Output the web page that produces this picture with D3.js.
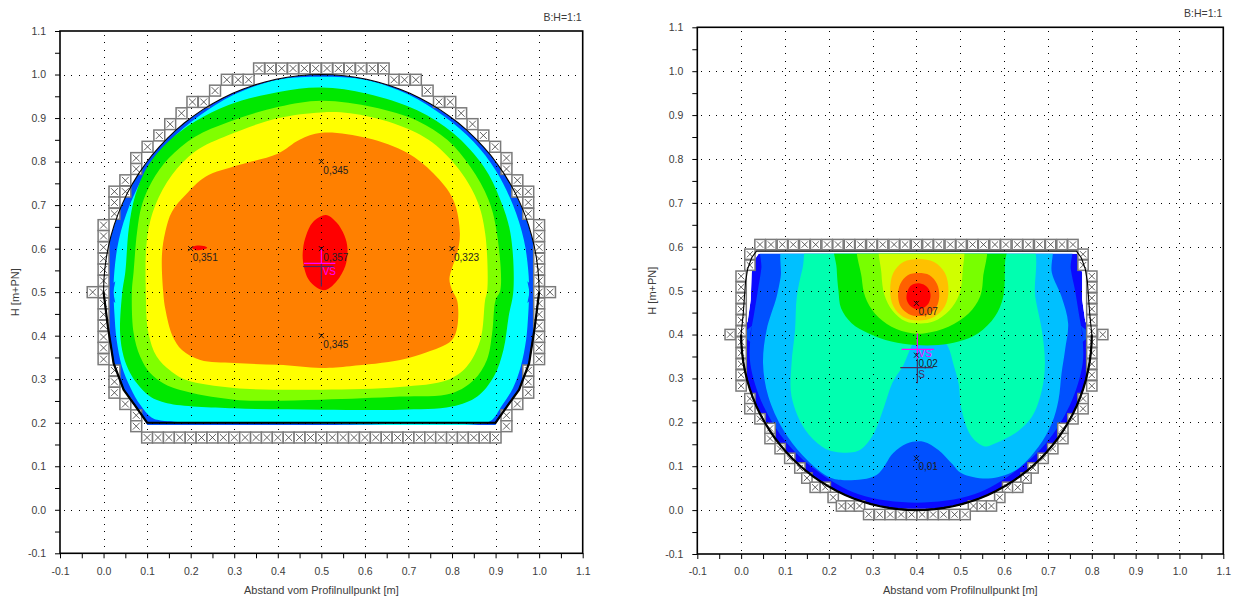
<!DOCTYPE html>
<html>
<head>
<meta charset="utf-8">
<script src="https://cdn.jsdelivr.net/npm/d3@7/dist/d3.min.js"></script>
<style>
html,body{margin:0;padding:0;background:#fff;}
svg{display:block;font-family:"Liberation Sans",Arial,sans-serif;}
</style>
</head>
<body>
<svg id="chart" width="1242" height="598"></svg>
<script>
// ---------------- shared axis data ----------------
const axisDomain = [-0.1, 1.1];
const majorTicks = [-0.1, 0.0, 0.1, 0.2, 0.3, 0.4, 0.5, 0.6, 0.7, 0.8, 0.9, 1.0, 1.1];
const majorLabels = ["-0.1", "0.0", "0.1", "0.2", "0.3", "0.4", "0.5", "0.6", "0.7", "0.8", "0.9", "1.0", "1.1"];
const minorTicks = [-0.05, 0.05, 0.15, 0.25, 0.35, 0.45, 0.55, 0.65, 0.75, 0.85, 0.95, 1.05];
const gridLines = [0.0, 0.1, 0.2, 0.3, 0.4, 0.5, 0.6, 0.7, 0.8, 0.9, 1.0];
const xTitle = "Abstand vom Profilnullpunkt [m]";
const yTitle = "H [m+PN]";
const ratioLabel = "B:H=1:1";

// ---------------- left chart: profile geometry ----------------
const leftArc = { cx: 0.5, cy: 0.5, r: 0.5, from: 180, to: 0 };
const leftProfileLower = [[1.0,0.5],[0.99,0.42],[0.977,0.337],[0.954,0.276],[0.928,0.24],[0.9,0.2],[0.1,0.2],[0.072,0.24],[0.046,0.276],[0.023,0.337],[0.01,0.42],[0.0,0.5]];
const leftFluidLower = [[1.0,0.5],[0.99,0.42],[0.977,0.337],[0.954,0.276],[0.928,0.24],[0.9,0.195],[0.1,0.195],[0.072,0.24],[0.046,0.276],[0.023,0.337],[0.01,0.42],[0.0,0.5]];

// left chart: contour bands (outer boundary of each level)
const leftCyan = [[0.5,0.995],[0.6,0.988],[0.7,0.954],[0.78,0.905],[0.85,0.845],[0.9,0.78],[0.94,0.7],[0.965,0.62],[0.975,0.55],[0.977,0.5],[0.975,0.45],[0.97,0.39],[0.958,0.33],[0.94,0.28],[0.915,0.24],[0.89,0.205],[0.86,0.197],[0.5,0.197],[0.3,0.2],[0.14,0.204],[0.11,0.212],[0.085,0.24],[0.062,0.28],[0.042,0.33],[0.03,0.39],[0.025,0.45],[0.023,0.5],[0.025,0.55],[0.035,0.62],[0.06,0.7],[0.1,0.78],[0.15,0.845],[0.22,0.905],[0.3,0.954],[0.4,0.988]];
const leftGreen = [[0.5,0.97],[0.605,0.956],[0.72,0.918],[0.803,0.865],[0.873,0.788],[0.911,0.712],[0.934,0.636],[0.941,0.505],[0.93,0.444],[0.918,0.367],[0.896,0.306],[0.858,0.26],[0.8,0.237],[0.68,0.23],[0.5,0.23],[0.3,0.233],[0.146,0.245],[0.107,0.26],[0.077,0.29],[0.061,0.314],[0.046,0.352],[0.038,0.406],[0.043,0.5],[0.05,0.547],[0.058,0.647],[0.073,0.723],[0.103,0.792],[0.149,0.846],[0.21,0.892],[0.287,0.93],[0.402,0.96]];
const leftLime = [[0.5,0.94],[0.62,0.925],[0.72,0.894],[0.789,0.85],[0.842,0.788],[0.884,0.712],[0.903,0.636],[0.911,0.505],[0.9,0.482],[0.892,0.405],[0.88,0.344],[0.85,0.298],[0.8,0.268],[0.68,0.26],[0.5,0.253],[0.3,0.253],[0.176,0.275],[0.138,0.29],[0.107,0.314],[0.084,0.352],[0.069,0.406],[0.065,0.5],[0.069,0.547],[0.077,0.639],[0.088,0.7],[0.111,0.754],[0.149,0.807],[0.21,0.857],[0.287,0.891],[0.402,0.926]];
const leftYellow = [[0.5,0.913],[0.566,0.911],[0.665,0.888],[0.746,0.85],[0.811,0.788],[0.857,0.712],[0.876,0.636],[0.881,0.505],[0.876,0.482],[0.865,0.39],[0.834,0.329],[0.79,0.298],[0.68,0.282],[0.5,0.276],[0.3,0.28],[0.19,0.298],[0.153,0.32],[0.122,0.352],[0.103,0.406],[0.097,0.5],[0.1,0.624],[0.119,0.7],[0.157,0.769],[0.21,0.823],[0.287,0.861],[0.402,0.9]];
const leftOrange = [[0.5,0.866],[0.605,0.854],[0.697,0.82],[0.757,0.773],[0.803,0.712],[0.818,0.636],[0.812,0.59],[0.8,0.555],[0.794,0.53],[0.8,0.505],[0.812,0.48],[0.812,0.42],[0.8,0.39],[0.77,0.372],[0.742,0.362],[0.681,0.344],[0.566,0.33],[0.5,0.326],[0.4,0.333],[0.3,0.337],[0.222,0.344],[0.18,0.367],[0.158,0.4],[0.142,0.46],[0.137,0.5],[0.134,0.585],[0.142,0.64],[0.157,0.685],[0.188,0.723],[0.234,0.765],[0.31,0.792],[0.4,0.818],[0.45,0.85]];
const leftRed = [[0.51,0.677],[0.535,0.66],[0.553,0.63],[0.56,0.6],[0.555,0.56],[0.535,0.525],[0.51,0.505],[0.49,0.51],[0.47,0.53],[0.458,0.57],[0.458,0.6],[0.465,0.63],[0.48,0.66]];
const leftRedSmall = [[0.203,0.603],[0.215,0.607],[0.23,0.606],[0.238,0.602],[0.228,0.598],[0.21,0.597]];
const leftSpikes = [[[0.0,0.5],[0.027,0.525],[0.022,0.5],[0.027,0.475]], [[1.0,0.5],[0.973,0.525],[0.978,0.5],[0.973,0.475]]];

// left chart: wall cells (centres)
const leftWall = [
  [0.357,1.014],[0.383,1.014],[0.409,1.014],[0.435,1.014],[0.461,1.014],[0.487,1.014],[0.513,1.014],[0.539,1.014],[0.565,1.014],[0.591,1.014],[0.617,1.014],[0.643,1.014],
  [0.283,0.988],[0.309,0.988],[0.333,0.988],[0.667,0.988],[0.691,0.988],[0.717,0.988],
  [0.256,0.963],[0.744,0.963],
  [0.204,0.937],[0.230,0.937],[0.770,0.937],[0.796,0.937],
  [0.179,0.911],[0.821,0.911],
  [0.153,0.886],[0.847,0.886],
  [0.128,0.860],[0.872,0.860],
  [0.101,0.834],[0.899,0.834],
  [0.075,0.808],[0.925,0.808],
  [0.075,0.783],[0.925,0.783],
  [0.050,0.757],[0.950,0.757],
  [0.025,0.731],[0.050,0.731],[0.950,0.731],[0.975,0.731],
  [0.025,0.706],[0.975,0.706],
  [0.025,0.680],[0.975,0.680],
  [0.0,0.654],[1.0,0.654],[0.0,0.629],[1.0,0.629],[0.0,0.603],[1.0,0.603],[0.0,0.577],[1.0,0.577],
  [0.0,0.552],[1.0,0.552],[0.0,0.526],[1.0,0.526],[0.0,0.500],[1.0,0.500],[0.0,0.474],[1.0,0.474],
  [0.0,0.449],[1.0,0.449],[0.0,0.423],[1.0,0.423],[0.0,0.397],[1.0,0.397],[0.0,0.372],[1.0,0.372],
  [0.0,0.346],[1.0,0.346],
  [-0.025,0.5],[1.025,0.5],
  [0.025,0.320],[0.975,0.320],[0.025,0.294],[0.975,0.294],[0.025,0.269],[0.975,0.269],
  [0.050,0.243],[0.950,0.243],
  [0.075,0.217],[0.925,0.217],[0.075,0.192],[0.925,0.192],
  [0.100,0.166],[0.125,0.166],[0.150,0.166],[0.175,0.166],[0.200,0.166],[0.225,0.166],[0.250,0.166],[0.275,0.166],
  [0.300,0.166],[0.325,0.166],[0.350,0.166],[0.375,0.166],[0.400,0.166],[0.425,0.166],[0.450,0.166],[0.475,0.166],
  [0.500,0.166],[0.525,0.166],[0.550,0.166],[0.575,0.166],[0.600,0.166],[0.625,0.166],[0.650,0.166],[0.675,0.166],
  [0.700,0.166],[0.725,0.166],[0.750,0.166],[0.775,0.166],[0.800,0.166],[0.825,0.166],[0.850,0.166],[0.875,0.166],[0.900,0.166]
];
const leftMarkers = [
  { x: 0.5, y: 0.8, label: "0,345" },
  { x: 0.2, y: 0.6, label: "0,351" },
  { x: 0.5, y: 0.6, label: "0,357" },
  { x: 0.8, y: 0.6, label: "0,323" },
  { x: 0.5, y: 0.4, label: "0,345" }
];
const leftLevels = [
  { kind: "vs", x0: 0.46, x1: 0.532, y: 0.566, name: "VS", tx: 0.503, ty: 0.547 },
  { kind: "s", x0: 0.458, x1: 0.528, y: 0.559, name: "", tx: 0, ty: 0 }
];
const leftStems = [
  { kind: "vs", x: 0.5, y0: 0.601, y1: 0.566 },
  { kind: "s", x: 0.5, y0: 0.566, y1: 0.513 }
];

// ---------------- right chart: profile geometry ----------------
const rightArc = { cx: 0.4, cy: 0.4, r: 0.4, from: 0, to: -180 };
const rightProfileUpper = [[0.035,0.59],[0.765,0.59],[0.776,0.575],[0.785,0.55],[0.79,0.52],[0.795,0.45],[0.8,0.4]];
const rightProfileLeft = [[0.0,0.4],[0.005,0.45],[0.01,0.52],[0.015,0.55],[0.024,0.575]];
const rightFluidUpper = [[0.04,0.584],[0.766,0.584],[0.772,0.57],[0.778,0.54],[0.778,0.48],[0.785,0.43],[0.8,0.4]];
const rightFluidLeft = [[0.0,0.4],[0.015,0.43],[0.022,0.48],[0.024,0.54],[0.03,0.57]];

// right chart: contour bands
const rightBlue = [[0.052,0.62],[0.748,0.62],[0.752,0.55],[0.762,0.5],[0.77,0.45],[0.778,0.4],[0.779,0.333],[0.749,0.237],[0.695,0.152],[0.621,0.085],[0.532,0.036],[0.4,0.017],[0.268,0.036],[0.179,0.085],[0.105,0.152],[0.051,0.237],[0.021,0.333],[0.022,0.4],[0.03,0.45],[0.038,0.5],[0.046,0.55]];
const rightSky = [[0.104,0.62],[0.701,0.62],[0.709,0.54],[0.731,0.486],[0.746,0.426],[0.739,0.365],[0.731,0.312],[0.724,0.251],[0.709,0.198],[0.678,0.144],[0.625,0.09],[0.564,0.072],[0.503,0.084],[0.48,0.107],[0.45,0.137],[0.416,0.156],[0.378,0.152],[0.347,0.13],[0.309,0.08],[0.241,0.068],[0.199,0.076],[0.14,0.125],[0.096,0.183],[0.062,0.259],[0.05,0.334],[0.058,0.41],[0.081,0.486],[0.09,0.53]];
const rightAqua = [[0.161,0.62],[0.655,0.62],[0.671,0.486],[0.686,0.41],[0.693,0.334],[0.686,0.273],[0.663,0.212],[0.625,0.175],[0.579,0.152],[0.556,0.145],[0.526,0.167],[0.503,0.228],[0.496,0.289],[0.485,0.33],[0.472,0.372],[0.455,0.392],[0.4,0.392],[0.388,0.372],[0.37,0.33],[0.345,0.29],[0.326,0.235],[0.3,0.17],[0.267,0.135],[0.214,0.133],[0.184,0.145],[0.146,0.183],[0.115,0.259],[0.115,0.334],[0.123,0.41],[0.127,0.486],[0.14,0.55]];
const rightGreen = [[0.218,0.62],[0.602,0.62],[0.602,0.562],[0.598,0.486],[0.579,0.441],[0.541,0.403],[0.496,0.384],[0.45,0.376],[0.397,0.376],[0.343,0.384],[0.29,0.403],[0.252,0.426],[0.228,0.46],[0.222,0.5],[0.218,0.55]];
const rightLime = [[0.271,0.62],[0.553,0.62],[0.552,0.53],[0.545,0.486],[0.519,0.448],[0.473,0.418],[0.42,0.403],[0.389,0.403],[0.343,0.418],[0.305,0.448],[0.283,0.486],[0.275,0.53]];
const rightYellowGreen = [[0.321,0.62],[0.5,0.62],[0.505,0.54],[0.497,0.49],[0.475,0.455],[0.44,0.43],[0.41,0.425],[0.375,0.43],[0.345,0.455],[0.327,0.49],[0.32,0.54]];
const rightGold = [[0.405,0.572],[0.44,0.565],[0.465,0.54],[0.473,0.5],[0.465,0.465],[0.44,0.44],[0.405,0.432],[0.37,0.44],[0.347,0.465],[0.34,0.5],[0.347,0.54],[0.37,0.565]];
const rightOrange = [[0.405,0.54],[0.43,0.535],[0.447,0.515],[0.452,0.488],[0.445,0.462],[0.428,0.447],[0.405,0.442],[0.382,0.447],[0.365,0.462],[0.358,0.488],[0.363,0.515],[0.38,0.535]];
const rightRed = [[0.405,0.517],[0.42,0.512],[0.43,0.5],[0.432,0.486],[0.427,0.47],[0.415,0.46],[0.4,0.458],[0.386,0.465],[0.378,0.478],[0.378,0.493],[0.384,0.508],[0.394,0.515]];
const rightSpikes = [[[0.0,0.4],[0.025,0.42],[0.02,0.4],[0.025,0.38]], [[0.8,0.4],[0.775,0.42],[0.78,0.4],[0.775,0.38]]];

// right chart: wall cells (centres)
const rightWall = [
  [0.043,0.605],[0.068,0.605],[0.094,0.605],[0.119,0.605],[0.145,0.605],[0.170,0.605],[0.196,0.605],[0.221,0.605],
  [0.247,0.605],[0.272,0.605],[0.298,0.605],[0.323,0.605],[0.349,0.605],[0.374,0.605],[0.400,0.605],[0.426,0.605],
  [0.451,0.605],[0.477,0.605],[0.502,0.605],[0.528,0.605],[0.553,0.605],[0.579,0.605],[0.604,0.605],[0.630,0.605],
  [0.655,0.605],[0.681,0.605],[0.706,0.605],[0.732,0.605],[0.757,0.605],
  [0.02,0.583],[0.78,0.583],[0.02,0.558],[0.78,0.558],
  [0.0,0.533],[0.8,0.533],[0.0,0.508],[0.8,0.508],[0.0,0.483],[0.8,0.483],[0.0,0.458],[0.8,0.458],
  [0.0,0.433],[0.8,0.433],[0.0,0.408],[0.8,0.408],[0.0,0.383],[0.8,0.383],[0.0,0.358],[0.8,0.358],
  [0.0,0.333],[0.8,0.333],[0.0,0.308],[0.8,0.308],[0.0,0.283],[0.8,0.283],
  [-0.025,0.40],[0.825,0.40],
  [0.02,0.254],[0.78,0.254],[0.02,0.231],[0.78,0.231],
  [0.043,0.208],[0.757,0.208],
  [0.066,0.186],[0.734,0.186],[0.066,0.163],[0.734,0.163],
  [0.089,0.140],[0.711,0.140],
  [0.111,0.118],[0.689,0.118],
  [0.134,0.096],[0.666,0.096],
  [0.150,0.073],[0.650,0.073],
  [0.169,0.052],[0.192,0.052],[0.608,0.052],[0.631,0.052],
  [0.210,0.029],[0.590,0.029],
  [0.229,0.0094],[0.250,0.0094],[0.270,0.0094],[0.530,0.0094],[0.550,0.0094],[0.571,0.0094],
  [0.291,-0.010],[0.316,-0.010],[0.340,-0.010],[0.365,-0.010],[0.389,-0.010],[0.413,-0.010],[0.438,-0.010],[0.462,-0.010],[0.487,-0.010],[0.511,-0.010]
];
const rightMarkers = [
  { x: 0.4, y: 0.471, label: "0,07" },
  { x: 0.4, y: 0.353, label: "0,02" },
  { x: 0.4, y: 0.118, label: "0,01" }
];
const rightLevels = [
  { kind: "vs", x0: 0.366, x1: 0.44, y: 0.366, name: "VS", tx: 0.404, ty: 0.356 },
  { kind: "s", x0: 0.363, x1: 0.438, y: 0.3245, name: "S", tx: 0.404, ty: 0.31 }
];
const rightStems = [
  { kind: "vs", x: 0.402, y0: 0.403, y1: 0.345 },
  { kind: "s", x: 0.402, y0: 0.345, y1: 0.289 }
];

// ---------------- styles ----------------
const leftBaseColor = "#0050ff";
const leftBandColors = ["#00ffff", "#00e800", "#80ff00", "#ffff00", "#ff8000", "#ff0000", "#ff0000"];
const rightBaseColor = "#0a0aff";
const rightBandColors = ["#0050ff", "#00c0ff", "#00ffb0", "#00e800", "#78ff00", "#d0ff00", "#ffc000", "#ff6000", "#ff0000"];
const levelColors = { vs: "#ff00ff", s: "#4a2a5e" };

function arcPoints(a) {
  const pts = [];
  const step = a.to > a.from ? 3 : -3;
  for (let t = a.from; step > 0 ? t <= a.to : t >= a.to; t += step) {
    pts.push([a.cx + a.r * Math.cos(t * Math.PI / 180), a.cy + a.r * Math.sin(t * Math.PI / 180)]);
  }
  return pts;
}

function drawChart(cfg) {
  const svg = d3.select("#chart");
  const g = svg.append("g");
  const x = d3.scaleLinear().domain(axisDomain).range([cfg.x0, cfg.x1]);
  const y = d3.scaleLinear().domain(axisDomain).range([cfg.y0, cfg.y1]);
  const closed = d3.line().x(d => x(d[0])).y(d => y(d[1])).curve(d3.curveLinearClosed);
  const open = d3.line().x(d => x(d[0])).y(d => y(d[1]));
  const smooth = d3.line().x(d => x(d[0])).y(d => y(d[1])).curve(d3.curveCatmullRomClosed.alpha(0.5));

  g.append("defs").append("clipPath").attr("id", cfg.id + "-fluid")
    .append("path").attr("d", closed(cfg.fluid));

  const fill = g.append("g").attr("clip-path", `url(#${cfg.id}-fluid)`);
  fill.append("path").attr("d", closed(cfg.fluid)).attr("fill", cfg.baseColor);
  cfg.bands.forEach((poly, i) => {
    fill.append("path").attr("d", smooth(poly)).attr("fill", cfg.bandColors[i]);
  });
  g.append("g").selectAll(null).data(cfg.spikes).join("path")
    .attr("d", d => closed(d)).attr("fill", cfg.spikeColor);

  // dotted grid
  const grid = g.append("g").attr("stroke", "#000").attr("stroke-width", 1)
    .attr("stroke-dasharray", "1,6.3").attr("shape-rendering", "crispEdges");
  grid.selectAll(null).data(gridLines).join("line")
    .attr("x1", d => Math.round(x(d)) + 0.5).attr("x2", d => Math.round(x(d)) + 0.5)
    .attr("y1", y(1.1) + 4).attr("y2", y(-0.1));
  grid.selectAll(null).data(gridLines).join("line")
    .attr("y1", d => Math.round(y(d)) + 0.5).attr("y2", d => Math.round(y(d)) + 0.5)
    .attr("x1", x(-0.1) + 4).attr("x2", x(1.1));

  // wall cells
  const h = (x(cfg.cellSize) - x(0)) / 2;
  const cells = g.append("g").selectAll(null).data(cfg.wall).join("g")
    .attr("transform", d => `translate(${x(d[0])},${y(d[1])})`);
  cells.append("rect").attr("x", -h).attr("y", -h).attr("width", 2 * h).attr("height", 2 * h)
    .attr("fill", "#fff").attr("stroke", "#7a7a7a").attr("stroke-width", 1.5);
  cells.append("path")
    .attr("d", `M${-h + 2},${-h + 2}L${h - 2},${h - 2}M${h - 2},${-h + 2}L${-h + 2},${h - 2}`)
    .attr("stroke", "#3a3a3a").attr("stroke-width", 0.8).attr("fill", "none");

  // profile line
  g.append("path").attr("d", closed(cfg.profile)).attr("fill", "none")
    .attr("stroke", "#000").attr("stroke-width", 1.1);
  g.append("path").attr("d", open(cfg.profileThick)).attr("fill", "none")
    .attr("stroke", "#000").attr("stroke-width", 2.2);

  // axes
  const styleAxis = a => {
    a.select(".domain").remove();
    a.attr("font-size", 10.5).attr("font-family", '"Liberation Sans", Arial, sans-serif');
    a.selectAll("text").attr("fill", "#3c3c3c");
    a.selectAll("line").attr("stroke", "#000");
  };
  g.append("g").attr("transform", `translate(0,${cfg.y0})`)
    .call(d3.axisBottom(x).tickValues(majorTicks).tickFormat((d, i) => majorLabels[i]).tickSize(5).tickPadding(9))
    .call(styleAxis);
  g.append("g").attr("transform", `translate(0,${cfg.y0})`)
    .call(d3.axisBottom(x).tickValues(minorTicks).tickFormat("").tickSize(5))
    .call(styleAxis);
  g.append("g").attr("transform", `translate(${cfg.x0},0)`)
    .call(d3.axisLeft(y).tickValues(majorTicks).tickFormat((d, i) => majorLabels[i]).tickSize(5).tickPadding(9))
    .call(styleAxis);
  g.append("g").attr("transform", `translate(${cfg.x0},0)`)
    .call(d3.axisLeft(y).tickValues(minorTicks).tickFormat("").tickSize(5))
    .call(styleAxis);

  // frame
  g.append("rect").attr("x", cfg.x0).attr("y", cfg.y1)
    .attr("width", cfg.x1 - cfg.x0).attr("height", cfg.y0 - cfg.y1)
    .attr("fill", "none").attr("stroke", "#000").attr("stroke-width", 1.6);

  // water level annotations
  cfg.stems.forEach(s => {
    g.append("line").attr("x1", x(s.x)).attr("x2", x(s.x)).attr("y1", y(s.y0)).attr("y2", y(s.y1))
      .attr("stroke", levelColors[s.kind]).attr("stroke-width", 1.2);
  });
  cfg.levels.forEach(l => {
    g.append("line").attr("x1", x(l.x0)).attr("x2", x(l.x1)).attr("y1", y(l.y)).attr("y2", y(l.y))
      .attr("stroke", levelColors[l.kind]).attr("stroke-width", 1.2);
    if (l.name) {
      g.append("text").attr("x", x(l.tx)).attr("y", y(l.ty)).attr("dy", "0.35em")
        .attr("font-size", 10).attr("fill", levelColors[l.kind]).text(l.name);
    }
  });

  // value markers
  const mk = g.append("g").selectAll(null).data(cfg.markers).join("g")
    .attr("transform", d => `translate(${x(d.x)},${y(d.y)})`);
  mk.append("path").attr("d", "M-2.5,-2.5L2.5,2.5M2.5,-2.5L-2.5,2.5")
    .attr("stroke", "#111").attr("stroke-width", 1);
  mk.append("text").attr("x", 2).attr("y", 12).attr("font-size", 10).attr("fill", "#222")
    .text(d => d.label);

  // titles
  g.append("text").attr("x", cfg.x1 - 1).attr("y", cfg.y1 - 10).attr("text-anchor", "end")
    .attr("font-size", 10.5).attr("fill", "#3c3c3c").text(ratioLabel);
  g.append("text").attr("x", (cfg.x0 + cfg.x1) / 2).attr("y", 594).attr("text-anchor", "middle")
    .attr("font-size", 11).attr("fill", "#3c3c3c").text(xTitle);
  g.append("text").attr("transform", `translate(${cfg.x0 - 45},${(cfg.y0 + cfg.y1) / 2}) rotate(-90)`)
    .attr("text-anchor", "middle").attr("dy", "0.35em")
    .attr("font-size", 11).attr("fill", "#3c3c3c").text(yTitle);
}

drawChart({
  id: "left",
  x0: 60, x1: 582.7, y0: 553.3, y1: 31,
  fluid: arcPoints(leftArc).concat(leftFluidLower),
  profile: arcPoints(leftArc).concat(leftProfileLower),
  profileThick: leftProfileLower,
  baseColor: leftBaseColor,
  bands: [leftCyan, leftGreen, leftLime, leftYellow, leftOrange, leftRed, leftRedSmall],
  bandColors: leftBandColors,
  spikes: leftSpikes, spikeColor: leftBaseColor,
  wall: leftWall, cellSize: 0.025,
  markers: leftMarkers, levels: leftLevels, stems: leftStems
});

drawChart({
  id: "right",
  x0: 697.3, x1: 1223.3, y0: 554, y1: 27.3,
  fluid: rightFluidUpper.concat(arcPoints(rightArc), rightFluidLeft),
  profile: rightProfileUpper.concat(arcPoints(rightArc), rightProfileLeft),
  profileThick: arcPoints(rightArc),
  baseColor: rightBaseColor,
  bands: [rightBlue, rightSky, rightAqua, rightGreen, rightLime, rightYellowGreen, rightGold, rightOrange, rightRed],
  bandColors: rightBandColors,
  spikes: rightSpikes, spikeColor: "#0050ff",
  wall: rightWall, cellSize: 0.0235,
  markers: rightMarkers, levels: rightLevels, stems: rightStems
});
</script>
</body>
</html>
